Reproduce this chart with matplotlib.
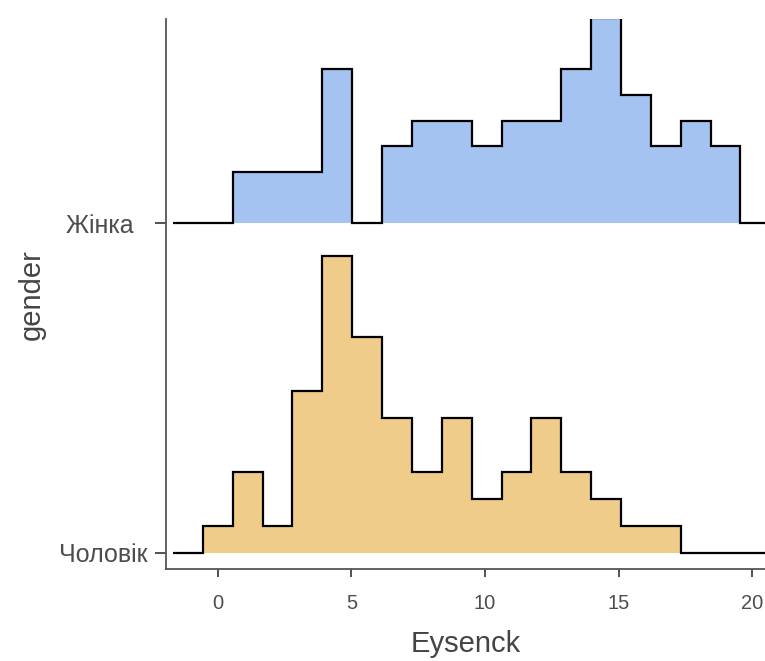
import numpy as np
import matplotlib
matplotlib.use("Agg")
import matplotlib.pyplot as plt

plt.rcParams['font.family'] = ['Liberation Sans', 'DejaVu Sans']

# histogram counts per bin (18 bins, centres 0 .. 19)
groups = ['Чоловік', 'Жінка']
bin_lo, bin_hi, n_bins = 0, 19, 18
counts_men = [1, 3, 1, 6, 11, 8, 5, 3, 5, 2, 3, 5, 3, 2, 1, 1, 0, 0]
counts_women = [0, 2, 2, 2, 6, 0, 3, 4, 4, 3, 4, 4, 6, 8, 5, 3, 4, 3]
fills = ['#F0CC8A', '#A5C3F0']
SCALE = 0.9

w = (bin_hi - bin_lo) / (n_bins - 1)
# edges with one empty pad bin each side
edges = bin_lo - w / 2 + w * np.arange(-1, n_bins + 2)

dens = []
for c in [counts_men, counts_women]:
    c = np.array(c, dtype=float)
    dens.append(c / (c.sum() * w))
top = max(d.max() for d in dens)

fig = plt.figure(figsize=(7.65, 6.61), dpi=100)
ax = fig.add_axes([166 / 765, 1 - 569.3 / 661, 1 - 166 / 765, (569.3 - 19) / 661])

# draw upper ridge first so lower ones sit on top
for i in [1, 0]:
    base = i + 1
    h = np.concatenate([[0], dens[i] / top * SCALE, [0]]) + base
    ax.stairs(h, edges, baseline=base, fill=True, color=fills[i], lw=0, zorder=2)
    ax.stairs(h, edges, baseline=base, color='black', lw=1.6, zorder=3)

ax.set_xlim(-1.94, 20.48)
ax.set_ylim(1 - 16.6 / 329.4, 2 + 204.3 / 329.4)
ax.set_yticks([1, 2])
ax.set_yticklabels([groups[0], groups[1] + '  '])
ax.set_xticks([0, 5, 10, 15, 20])

for s in ['top', 'right']:
    ax.spines[s].set_visible(False)
for s in ['left', 'bottom']:
    ax.spines[s].set_color('#555555')
    ax.spines[s].set_linewidth(1.3)
ax.tick_params(colors='#333333', labelcolor='#4D4D4D', labelsize=14.5,
               length=6, width=1.2)
ax.tick_params(axis='y', length=8, pad=5, labelsize=18)
ax.tick_params(axis='x', pad=12)

ax.set_xlabel('Eysenck', fontsize=21, color='#444444', labelpad=12)
ax.set_ylabel('gender', fontsize=21, color='#444444', labelpad=10)

fig.savefig('out.png', dpi=100)
